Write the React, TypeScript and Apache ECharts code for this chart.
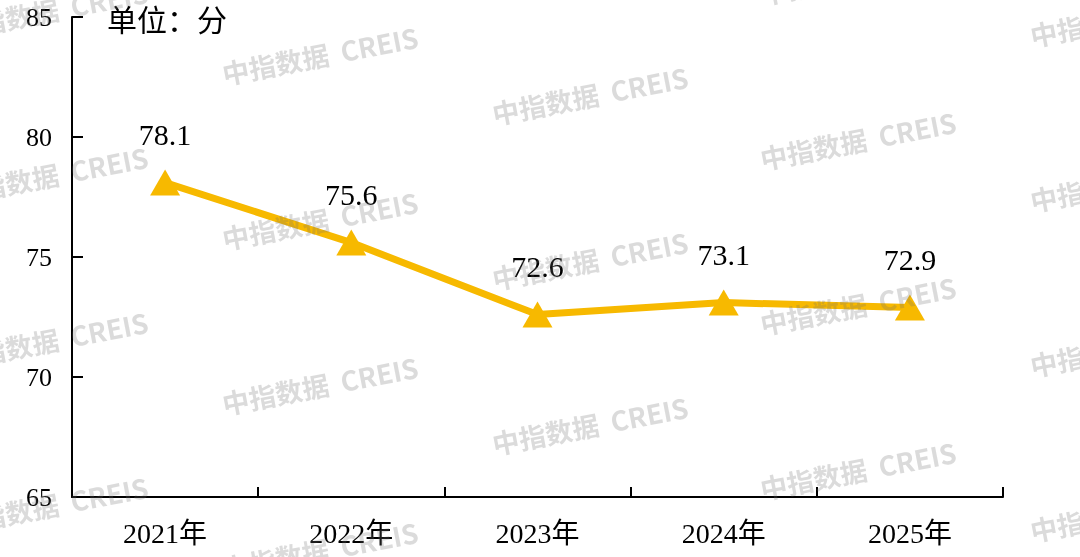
import React, { useEffect, useRef } from "react";
import * as echarts from "echarts";

const categories = ["2021年", "2022年", "2023年", "2024年", "2025年"];
const scores = [78.1, 75.6, 72.6, 73.1, 72.9];
const yTicks = { min: 65, max: 85, interval: 5 };
const yTickValues = [65, 70, 75, 80, 85];
const unitLabel = "单位：分";
const watermarkText = "中指数据  CREIS";

const wmCols = [50, 320, 590, 858, 1128];
const wmOffsets = [10, 55, 95, 140, 17];

export default function App() {
  const ref = useRef<HTMLDivElement>(null);
  useEffect(() => {
    if (!ref.current) return;
    const chart = echarts.init(ref.current, null, { renderer: "svg" });
    const wm: any[] = [];
    wmCols.forEach((x, i) => {
      for (let k = -1; k < 5; k++) {
        const y = wmOffsets[i] + k * 165;
        if (y < -40 || y > 600) continue;
        wm.push({
          type: "text",
          x,
          y,
          rotation: 0.19,
          z: 100,
          silent: true,
          style: {
            text: watermarkText,
            fill: "rgba(110,110,110,0.25)",
            font: "bold 27px 'Noto Sans CJK SC', 'DejaVu Sans', sans-serif",
            textAlign: "center",
            textVerticalAlign: "middle",
          },
        });
      }
    });
    chart.setOption({
      animation: false,
      grid: { left: 72, right: 77, top: 17, bottom: 60 },
      graphic: [
        {
          type: "text",
          left: 107,
          top: 3,
          style: {
            text: unitLabel,
            fill: "#000",
            font: "30px 'Noto Sans CJK SC', sans-serif",
          },
        },
        ...wm,
      ],
      xAxis: {
        type: "category",
        data: categories,
        boundaryGap: true,
        axisLine: { show: true, lineStyle: { color: "#000", width: 2 } },
        axisTick: { show: true, inside: true, length: 10, alignWithLabel: false, lineStyle: { color: "#000", width: 2 } },
        axisLabel: {
          color: "#000",
          fontSize: 28,
          margin: 22,
          fontFamily: "'Liberation Serif', 'Noto Sans CJK SC', serif",
        },
      },
      yAxis: {
        type: "value",
        min: yTicks.min,
        max: yTicks.max,
        interval: yTicks.interval,
        axisLine: { show: true, lineStyle: { color: "#000", width: 2 } },
        axisTick: { show: false },
        splitLine: { show: false },
        axisLabel: {
          color: "#000",
          fontSize: 26,
          margin: 20,
          fontFamily: "'Liberation Serif', serif",
        },
      },
      series: [
        {
          type: "line",
          data: scores,
          symbol: "triangle",
          symbolSize: [30, 26],
          lineStyle: { color: "#F7B900", width: 7 },
          itemStyle: { color: "#F7B900" },
          label: {
            show: true,
            position: "top",
            distance: 20,
            color: "#000",
            fontSize: 30,
            fontFamily: "'Liberation Serif', serif",
            formatter: (p: any) => p.value.toFixed(1),
          },
        },
        {
          type: "custom",
          clip: false,
          data: yTickValues.map((v) => [0, v]),
          renderItem: (params: any, api: any) => {
            const y = api.coord([0, api.value(1)])[1];
            const x0 = params.coordSys.x;
            return {
              type: "line",
              shape: { x1: x0, y1: y, x2: x0 + 11, y2: y },
              style: { stroke: "#000", lineWidth: 2 },
            };
          },
        },
      ],
    });
    return () => chart.dispose();
  }, []);
  return <div ref={ref} style={{ width: 1080, height: 557, position: "fixed", left: 0, top: 0 }} />;
}
